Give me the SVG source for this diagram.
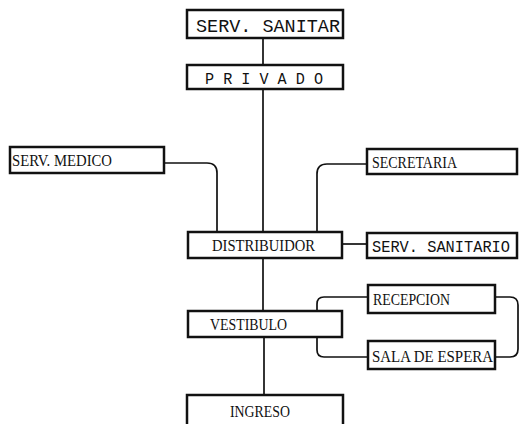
<svg xmlns="http://www.w3.org/2000/svg" width="519" height="424" viewBox="0 0 519 424">
<style>
.box{fill:#fff;stroke:#111;stroke-width:2.5}
.ln{fill:none;stroke:#111;stroke-width:1.7}
.mono{font-family:"Liberation Mono",monospace;fill:#111}
.cond{font-family:"Liberation Serif",serif;fill:#111;font-size:16.5px}
</style>
<rect width="519" height="424" fill="#fff"/>
<g id="connectors">
<path class="ln" d="M263,38V65"/>
<path class="ln" d="M263,89V232"/>
<path class="ln" d="M164,163H207Q217,163 217,173V232"/>
<path class="ln" d="M367,164H327Q317,164 317,174V232"/>
<path class="ln" d="M342,244H367"/>
<path class="ln" d="M263,258V311"/>
<path class="ln" d="M264,337V395"/>
<path class="ln" d="M368,297H324Q317,297 317,304V311M317,337V350Q317,357 324,357H368"/>
<path class="ln" d="M495,297H510Q518,297 518,305V349Q518,357 510,357H495"/>
</g>
<g id="serv_sanitar"><rect class="box" x="187" y="10" width="156" height="28"/><text class="mono" x="196" y="32" font-size="18" textLength="144" lengthAdjust="spacingAndGlyphs">SERV. SANITAR</text></g>
<g id="privado"><rect class="box" x="187" y="65" width="156" height="24"/><text class="mono" x="205" y="84" font-size="16" textLength="118" lengthAdjust="spacingAndGlyphs">P R I V A D O</text></g>
<g id="serv_medico"><rect class="box" x="10" y="147" width="154" height="26"/><text class="cond" x="12" y="166" textLength="100" lengthAdjust="spacingAndGlyphs">SERV. MEDICO</text></g>
<g id="secretaria"><rect class="box" x="367" y="149" width="150" height="25"/><text class="cond" x="372" y="168" textLength="85" lengthAdjust="spacingAndGlyphs">SECRETARIA</text></g>
<g id="distribuidor"><rect class="box" x="188" y="232" width="154" height="26"/><text class="cond" x="212" y="251" textLength="103" lengthAdjust="spacingAndGlyphs">DISTRIBUIDOR</text></g>
<g id="serv_sanitario"><rect class="box" x="367" y="233" width="150" height="25"/><text class="mono" x="372" y="252" font-size="16" textLength="138" lengthAdjust="spacingAndGlyphs">SERV. SANITARIO</text></g>
<g id="recepcion"><rect class="box" x="368" y="285" width="127" height="28"/><text class="cond" x="373" y="305" textLength="77" lengthAdjust="spacingAndGlyphs">RECEPCION</text></g>
<g id="vestibulo"><rect class="box" x="188" y="311" width="154" height="26"/><text class="cond" x="210" y="330" textLength="77" lengthAdjust="spacingAndGlyphs">VESTIBULO</text></g>
<g id="sala_espera"><rect class="box" x="368" y="341" width="127" height="28"/><text class="cond" x="372" y="362" textLength="121" lengthAdjust="spacingAndGlyphs">SALA DE ESPERA</text></g>
<g id="ingreso"><rect class="box" x="187" y="395" width="156" height="34"/><text class="cond" x="230" y="417" font-size="15" textLength="60" lengthAdjust="spacingAndGlyphs">INGRESO</text></g>
</svg>
